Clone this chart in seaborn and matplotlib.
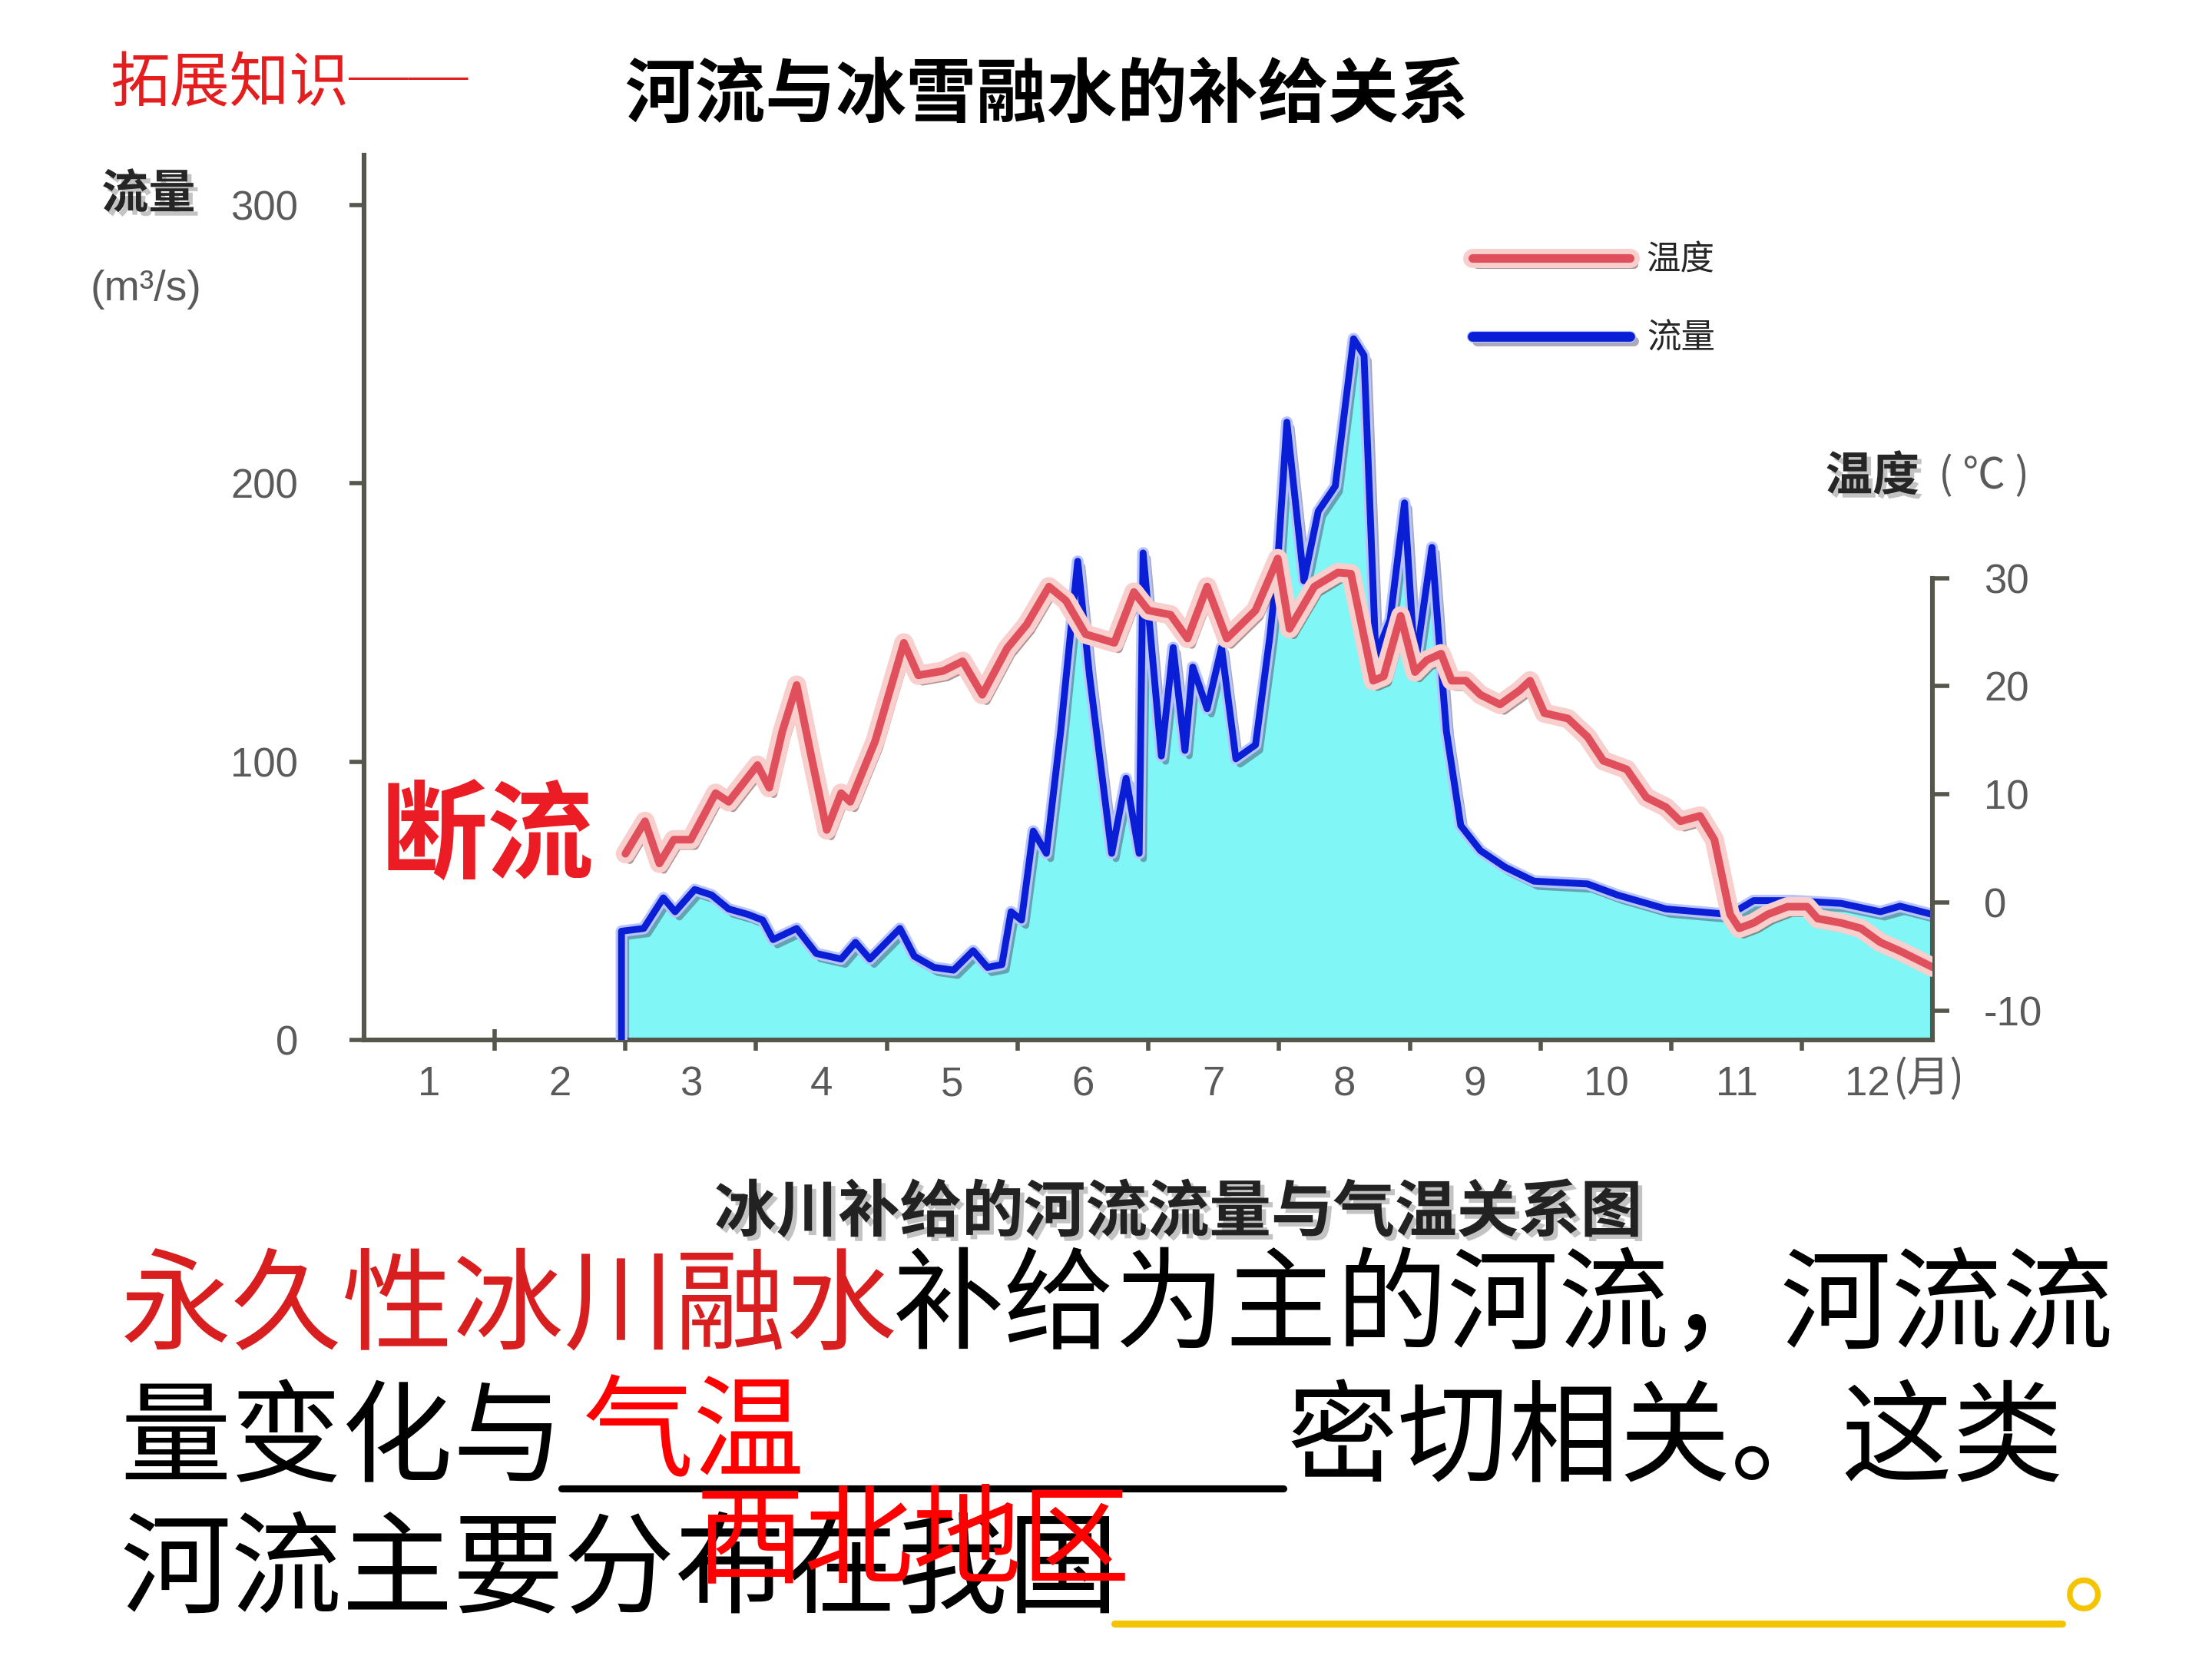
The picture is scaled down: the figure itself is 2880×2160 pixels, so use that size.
import matplotlib
matplotlib.use("Agg")
import matplotlib.pyplot as plt
import matplotlib.patheffects as pe
from matplotlib.lines import Line2D
from matplotlib import font_manager
import seaborn as sns

# ---- data ----
months = ["1", "2", "3", "4", "5", "6", "7", "8", "9", "10", "11", "12"]

flow_month = [1.97, 2.14, 2.29, 2.38, 2.53, 2.66, 2.79, 2.94, 3.05, 3.13, 3.31, 3.46,
              3.65, 3.76, 3.87, 4.10, 4.21, 4.36, 4.51, 4.66, 4.77, 4.88, 4.95, 5.03,
              5.12, 5.22, 5.33, 5.46, 5.55, 5.72, 5.83, 5.93, 5.96, 6.10, 6.19, 6.28,
              6.34, 6.45, 6.56, 6.67, 6.82, 6.93, 6.99, 7.06, 7.19, 7.30, 7.43, 7.57,
              7.65, 7.74, 7.85, 7.96, 8.04, 8.17, 8.23, 8.28, 8.39, 8.54, 8.73, 8.95,
              9.36, 9.59, 9.96, 10.45, 10.63, 10.93, 11.30, 11.60, 11.75, 12.0]
flow = [39, 40, 51, 46, 54, 52, 47, 45, 43, 36, 40, 31,
        29, 35, 29, 40, 30, 26, 25, 32, 26, 27, 46, 43,
        75, 67, 111, 172, 131, 67, 94, 67, 175, 102, 141, 104,
        134, 119, 141, 101, 106, 145, 172, 222, 165, 190, 199, 252,
        246, 138, 151, 193, 134, 177, 140, 111, 77, 68, 62, 57,
        56, 52, 47, 45, 50, 50, 49, 46, 48, 45]

temp_month = [2.00, 2.15, 2.26, 2.37, 2.50, 2.69, 2.79, 3.01, 3.10, 3.20, 3.31, 3.42,
              3.54, 3.65, 3.72, 3.91, 4.13, 4.24, 4.43, 4.58, 4.73, 4.92, 5.07, 5.24,
              5.37, 5.52, 5.74, 5.89, 6.00, 6.17, 6.30, 6.45, 6.60, 6.82, 6.99, 7.08,
              7.27, 7.45, 7.55, 7.61, 7.72, 7.80, 7.93, 8.04, 8.13, 8.24, 8.32, 8.43,
              8.54, 8.69, 8.84, 8.92, 9.03, 9.21, 9.36, 9.48, 9.66, 9.81, 9.96, 10.07,
              10.22, 10.33, 10.45, 10.52, 10.63, 10.74, 10.89, 11.04, 11.12, 11.30,
              11.45, 11.60, 11.75, 12.0]
temp = [4.5, 7.5, 3.6, 5.8, 5.8, 10.1, 9.3, 12.7, 10.6, 15.8, 20.1, 13.6,
        6.7, 10.1, 9.3, 14.9, 24.0, 21.0, 21.4, 22.3, 19.2, 23.5, 25.7, 29.2,
        27.9, 24.8, 24.0, 28.7, 27.0, 26.6, 24.4, 29.2, 24.4, 27.0, 31.8, 25.3,
        29.2, 30.5, 30.4, 26.9, 20.5, 20.9, 26.5, 21.3, 22.4, 23.0, 20.5, 20.5,
        19.2, 18.3, 19.6, 20.5, 17.5, 17.0, 15.3, 13.1, 12.3, 9.7, 8.8, 7.5,
        8.0, 5.8, -1.1, -2.4, -1.9, -1.1, -0.4, -0.4, -1.5, -1.9,
        -2.4, -3.7, -4.5, -6.0]

flow_ticks = [0, 100, 200, 300]
temp_ticks = [-10, 0, 10, 20, 30]

# ---- style ----
sns.set_theme(style="white")
plt.rcParams["font.family"] = ["Noto Sans CJK SC", "DejaVu Sans"]
plt.rcParams["axes.unicode_minus"] = False

installed = {f.name for f in font_manager.fontManager.ttflist}
NUM_FONT = "Liberation Sans Narrow" if "Liberation Sans Narrow" in installed else "Liberation Sans"

AXIS_C = "#55574c"
GRAY = "#5a5a5a"
CYAN = "#80f7f6"
BLUE = "#0a1ed6"
RED = "#e0505c"

# layout in reference-preview pixels (1568 x 1176)
W, H = 1568, 1176
def fx(x): return x / W
def fy(y): return 1 - y / H

fig = plt.figure(figsize=(14.4, 10.8), dpi=200, facecolor="white")
ax = fig.add_axes([fx(258), fy(737), fx(1370) - fx(258), fy(110) - fy(737)])
ax.set_facecolor("white")

# flow: filled area + blue line
ax.fill_between(flow_month, flow, 0, color=CYAN, linewidth=0, zorder=1)
blue_fx = [pe.SimpleLineShadow(offset=(2, -2.5), shadow_color="#404060", alpha=0.45),
           pe.Stroke(linewidth=5.5, foreground="#b8c4ff"), pe.Normal()]
sns.lineplot(x=[flow_month[0]] + flow_month, y=[0] + flow, ax=ax, color=BLUE,
             linewidth=3.2, estimator=None, sort=False, zorder=3)
ax.lines[-1].set_path_effects(blue_fx)

ax.set_xlim(0, 12)
ax.set_ylim(0, 318)
ax.set_xlabel("")
ax.set_ylabel("")

# temperature on twin axis
ax2 = ax.twinx()
ax2.set_ylim(-12.7, 69.1)
red_fx = [pe.SimpleLineShadow(offset=(2, -3), shadow_color="#6b4040", alpha=0.55),
          pe.Stroke(linewidth=9, foreground="#f8cfcc"), pe.Normal()]
sns.lineplot(x=temp_month, y=temp, ax=ax2, color=RED, linewidth=3.6,
             estimator=None, sort=False, zorder=4)
ax2.lines[-1].set_path_effects(red_fx)
ax2.set_ylabel("")

# spines / ticks
for a in (ax, ax2):
    a.spines["top"].set_visible(False)
    for s in ("left", "bottom", "right"):
        a.spines[s].set_color(AXIS_C)
        a.spines[s].set_linewidth(2.2)
ax.spines["right"].set_visible(False)
ax2.spines["left"].set_visible(False)
ax2.spines["bottom"].set_visible(False)
ax2.spines["right"].set_bounds(-12.7, 30)

ax.set_yticks(flow_ticks)
ax.set_yticklabels([str(v) for v in flow_ticks], fontsize=19, color=GRAY, family=NUM_FONT)
ax.tick_params(axis="y", direction="out", length=7, width=2, color=AXIS_C, pad=24, left=True)

ax.set_xticks([i + 0.5 for i in range(12)])
ax.set_xticklabels(months, fontsize=19, color=GRAY, family=NUM_FONT)
ax.set_xticks(range(1, 12), minor=True)
ax.tick_params(axis="x", which="major", length=0, pad=12, bottom=True)
ax.tick_params(axis="x", which="minor", direction="inout", length=10, width=2,
               color=AXIS_C, bottom=True)

ax2.set_yticks(temp_ticks)
ax2.set_yticklabels([str(v) for v in temp_ticks], fontsize=19, color=GRAY, family=NUM_FONT)
ax2.tick_params(axis="y", direction="out", length=8, width=2, color=AXIS_C, pad=16, right=True)
ax.grid(False)
ax2.grid(False)

# legend
handles = [Line2D([], [], color=RED, linewidth=4.0, path_effects=red_fx),
           Line2D([], [], color=BLUE, linewidth=4.6, path_effects=blue_fx)]
ax.legend(handles, ["温度", "流量"], loc="upper left", bbox_to_anchor=(fx(1022), fy(150)),
          bbox_transform=fig.transFigure, frameon=False, fontsize=16, handlelength=4.6,
          handletextpad=0.5, labelspacing=1.25)

# ---- text around the chart ----
shadow = [pe.withSimplePatchShadow(offset=(2, -2), shadow_rgbFace="#888888", alpha=0.5)]

fig.text(fx(78), fy(60), "拓展知识──", fontsize=28, color="#e41e1e", va="center", ha="left")
fig.text(fx(742), fy(68), "河流与冰雪融水的补给关系", fontsize=33, fontweight="bold",
         color="black", va="center", ha="center")

fig.text(fx(72), fy(138), "流量", fontsize=22, fontweight="bold", va="center", ha="left",
         path_effects=shadow)
fig.text(fx(64), fy(205), "(m³/s)", fontsize=20, color=GRAY, va="center", ha="left",
         family=NUM_FONT)
fig.text(fx(1294), fy(338), "温度", fontsize=22, fontweight="bold", va="center", ha="left",
         path_effects=shadow)
fig.text(fx(1374), fy(338), "( ℃ )", fontsize=20, color=GRAY, va="center", ha="left")
fig.text(fx(1342), fy(765), "(月)", fontsize=20, color=GRAY, va="center", ha="left")

fig.text(fx(270), fy(595), "断流", fontsize=50, fontweight="bold", color="#ec1c24",
         va="center", ha="left")

fig.text(fx(835), fy(860), "冰川补给的河流流量与气温关系图", fontsize=29, fontweight="bold",
         color="#222222", va="center", ha="center", path_effects=shadow)

# ---- paragraph ----
FS = 52
CH = 78.3  # one character width in preview px
fig.text(fx(85), fy(928), "永久性冰川融水", fontsize=FS, color="#d81e1e", va="center", ha="left")
fig.text(fx(85 + 7 * CH), fy(928), "补给为主的河流，河流流", fontsize=FS, color="black",
         va="center", ha="left")
fig.text(fx(85), fy(1022), "量变化与", fontsize=FS, color="black", va="center", ha="left")
fig.add_artist(Line2D([fx(398), fx(910)], [fy(1055), fy(1055)], color="black",
                      linewidth=3.3, transform=fig.transFigure))
fig.text(fx(912), fy(1022), "密切相关。这类", fontsize=FS, color="black", va="center", ha="left")
fig.text(fx(85), fy(1115), "河流主要分布在我国", fontsize=FS, color="black", va="center", ha="left")
fig.add_artist(Line2D([fx(790), fx(1462)], [fy(1151), fy(1151)], color="#f5c400",
                      linewidth=3.3, transform=fig.transFigure))
fig.text(fx(1462), fy(1115), "。", fontsize=FS, color="#f5c400", va="center", ha="left")

# answers written over the blanks (they overlap the text in the original slide too)
fig.text(fx(413), fy(1018), "气温", fontsize=FS, color="#ff0000", va="center", ha="left")
fig.text(fx(493), fy(1094), "西北地区", fontsize=51, color="#ff0000", va="center", ha="left")

fig.savefig("out.png", dpi=200, facecolor="white")
